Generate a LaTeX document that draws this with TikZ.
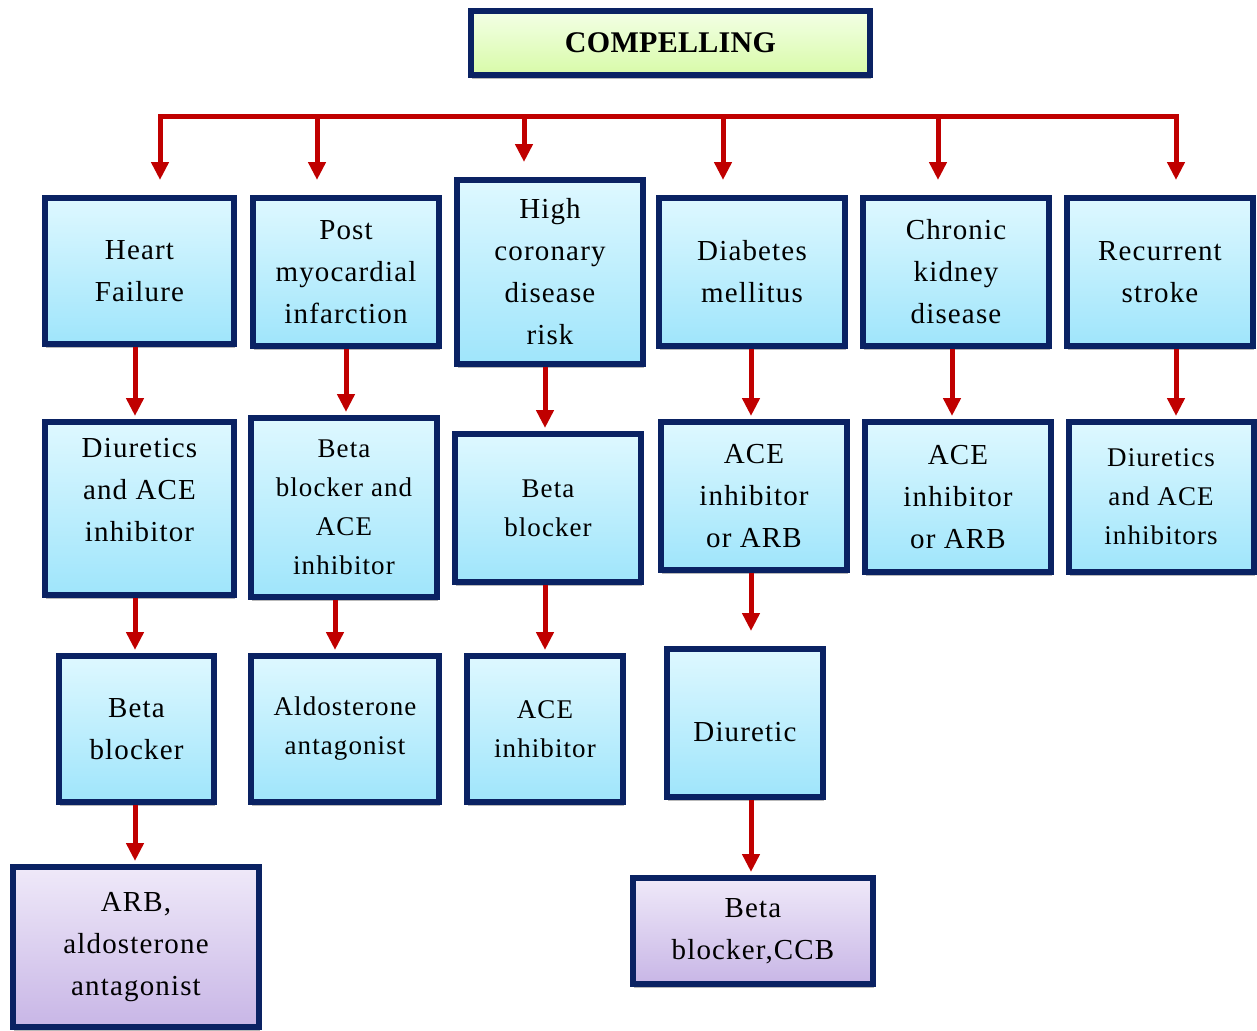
\documentclass[tikz,border=0pt]{standalone}
\usepackage{fontspec}
\setmainfont{Liberation Serif}[LetterSpace=4]
\usetikzlibrary{arrows.meta,shadows}
\definecolor{boxline}{HTML}{0A2263}
\definecolor{arrred}{HTML}{C00000}
\definecolor{cyantop}{HTML}{DEF8FF}
\definecolor{cyanbot}{HTML}{9FE5FB}
\definecolor{lilactop}{HTML}{EFE9F9}
\definecolor{lilacbot}{HTML}{C8B6E6}
\definecolor{limetop}{HTML}{F3FFE6}
\definecolor{limebot}{HTML}{D8FBA8}
\tikzset{
  drug/.style={draw=boxline, line width=6pt, top color=cyantop, bottom color=cyanbot,
    align=center, inner sep=2pt, font=\fontsize{29}{42}\selectfont,
    drop shadow={shadow xshift=1pt, shadow yshift=-4pt, fill=gray!55, opacity=1}},
  combo/.style={drug, top color=lilactop, bottom color=lilacbot},
  head/.style={drug, top color=limetop, bottom color=limebot,
    font=\fontsize{30}{36}\selectfont\bfseries\addfontfeatures{LetterSpace=1}},
  small/.style={font=\fontsize{27}{39}\selectfont},
  arr/.style={draw=arrred, line width=5pt, -{Triangle[width=17pt,length=18pt]}, shorten >=3pt},
  bus/.style={draw=arrred, line width=5pt, line cap=rect}
}
\begin{document}
\begin{tikzpicture}[x=1pt,y=-1pt]
\useasboundingbox (0,0) rectangle (1257,1030);
% title
\node[head, minimum width=399pt, minimum height=64pt] (comp) at (670.5,43) {COMPELLING};
% first row: indications
\node[drug, minimum width=189pt, minimum height=146pt] (hf) at (139.5,271) {Heart\\Failure};
\node[drug, minimum width=186pt, minimum height=148pt] (pmi) at (346,272) {Post\\myocardial\\infarction};
\node[drug, minimum width=186pt, minimum height=184pt] (hcd) at (550,272) {High\\coronary\\disease\\risk};
\node[drug, minimum width=186pt, minimum height=148pt] (dm) at (752,272) {Diabetes\\mellitus};
\node[drug, minimum width=186pt, minimum height=148pt] (ckd) at (956,272) {Chronic\\kidney\\disease};
\node[drug, minimum width=186pt, minimum height=148pt] (rs) at (1160,272) {Recurrent\\stroke};
% second row
\node[drug, text depth=38pt, minimum width=189pt, minimum height=173pt] (dace) at (139.5,508.5) {Diuretics\\and ACE\\inhibitor};
\node[drug, small, minimum width=186pt, minimum height=179pt] (bba) at (344,507.5) {Beta\\blocker and\\ACE\\inhibitor};
\node[drug, small, minimum width=186pt, minimum height=148pt] (bbb) at (548,508) {Beta\\blocker};
\node[drug, minimum width=186pt, minimum height=148pt] (acea) at (754,496) {ACE\\inhibitor\\or ARB};
\node[drug, minimum width=186pt, minimum height=150pt] (aceb) at (958,497) {ACE\\inhibitor\\or ARB};
\node[drug, small, minimum width=185pt, minimum height=150pt] (dacs) at (1161,497) {Diuretics\\and ACE\\inhibitors};
% third row
\node[drug, minimum width=155pt, minimum height=146pt] (bbc) at (136.5,729) {Beta\\blocker};
\node[drug, small, minimum width=188pt, minimum height=146pt] (ald) at (345,729) {Aldosterone\\antagonist};
\node[drug, small, minimum width=156pt, minimum height=146pt] (acec) at (545,729) {ACE\\inhibitor};
\node[drug, text height=38pt, minimum width=156pt, minimum height=148pt] (diu) at (745,723) {Diuretic};
% fourth row
\node[combo, minimum width=246pt, minimum height=160pt] (arb) at (136,947) {ARB,\\aldosterone\\antagonist};
\node[combo, minimum width=240pt, minimum height=106pt] (bccb) at (753,931) {Beta\\blocker,CCB};
% branch line
\coordinate (b1) at (160,117);
\coordinate (b2) at (317,117);
\coordinate (b3) at (524,117);
\coordinate (b4) at (723,117);
\coordinate (b5) at (938,117);
\coordinate (b6) at (1176,117);
\draw[bus] (b1) -- (b6);
\foreach \b/\n in {b1/hf,b2/pmi,b3/hcd,b4/dm,b5/ckd,b6/rs}
  \draw[arr, shorten >=15pt] (\b) -- (\b |- \n.north);
% downward arrows
\foreach \a/\n/\x in {hf/dace/135,dace/bbc/135,bbc/arb/135,pmi/bba/346,bba/ald/335,
    hcd/bbb/545,bbb/acec/545,dm/acea/751,diu/bccb/751,ckd/aceb/952,rs/dacs/1176}
  \draw[arr] (\a.south -| \x,0) -- (\n.north -| \x,0);
\draw[arr, shorten >=15pt] (acea.south -| 751,0) -- (diu.north -| 751,0);
\end{tikzpicture}
\end{document}
